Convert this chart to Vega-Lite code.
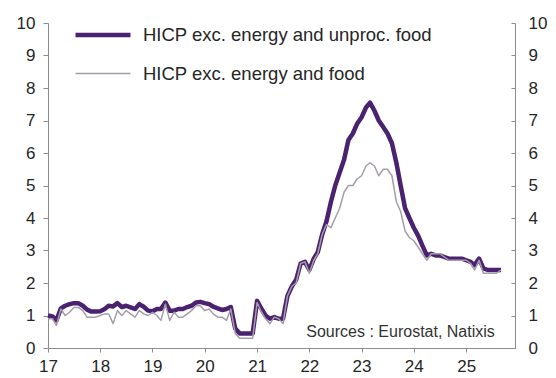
{
  "$schema": "https://vega.github.io/schema/vega-lite/v6.json",
  "width": 467,
  "height": 325,
  "autosize": {"type": "none"},
  "padding": {"left": 48, "top": 23, "right": 41, "bottom": 30},
  "background": "white",
  "config": {
    "font": "Liberation Sans",
    "view": {"stroke": null},
    "axis": {
      "grid": false,
      "domainColor": "#8c8c8c",
      "tickColor": "#8c8c8c",
      "labelColor": "#262626",
      "labelFont": "Liberation Sans",
      "labelFontSize": 17,
      "title": null
    },
    "legend": {
      "orient": "none",
      "legendX": 25,
      "legendY": -18,
      "symbolType": "stroke",
      "symbolSize": 3025,
      "labelFont": "Liberation Sans",
      "labelFontSize": 18.5,
      "labelColor": "#262626",
      "labelOffset": 10,
      "labelLimit": 400,
      "rowPadding": -2,
      "padding": 0,
      "title": null
    }
  },
  "data": {
    "values": [
      {"date": "2017-01-01", "unproc": 1.00, "food": 0.90},
      {"date": "2017-02-01", "unproc": 0.97, "food": 0.90},
      {"date": "2017-03-01", "unproc": 0.85, "food": 0.70},
      {"date": "2017-04-01", "unproc": 1.22, "food": 1.20},
      {"date": "2017-05-01", "unproc": 1.30, "food": 1.00},
      {"date": "2017-06-01", "unproc": 1.35, "food": 1.10},
      {"date": "2017-07-01", "unproc": 1.38, "food": 1.25},
      {"date": "2017-08-01", "unproc": 1.38, "food": 1.25},
      {"date": "2017-09-01", "unproc": 1.30, "food": 1.15},
      {"date": "2017-10-01", "unproc": 1.18, "food": 0.95},
      {"date": "2017-11-01", "unproc": 1.12, "food": 0.95},
      {"date": "2017-12-01", "unproc": 1.12, "food": 0.95},
      {"date": "2018-01-01", "unproc": 1.13, "food": 1.00},
      {"date": "2018-02-01", "unproc": 1.20, "food": 1.05},
      {"date": "2018-03-01", "unproc": 1.30, "food": 1.05},
      {"date": "2018-04-01", "unproc": 1.28, "food": 0.75},
      {"date": "2018-05-01", "unproc": 1.38, "food": 1.15},
      {"date": "2018-06-01", "unproc": 1.26, "food": 1.00},
      {"date": "2018-07-01", "unproc": 1.30, "food": 1.15},
      {"date": "2018-08-01", "unproc": 1.25, "food": 1.05},
      {"date": "2018-09-01", "unproc": 1.20, "food": 0.95},
      {"date": "2018-10-01", "unproc": 1.35, "food": 1.15},
      {"date": "2018-11-01", "unproc": 1.27, "food": 1.05},
      {"date": "2018-12-01", "unproc": 1.15, "food": 1.00},
      {"date": "2019-01-01", "unproc": 1.13, "food": 1.10},
      {"date": "2019-02-01", "unproc": 1.20, "food": 1.00},
      {"date": "2019-03-01", "unproc": 1.20, "food": 0.85},
      {"date": "2019-04-01", "unproc": 1.40, "food": 1.35},
      {"date": "2019-05-01", "unproc": 1.15, "food": 0.85},
      {"date": "2019-06-01", "unproc": 1.15, "food": 1.10},
      {"date": "2019-07-01", "unproc": 1.20, "food": 0.95},
      {"date": "2019-08-01", "unproc": 1.20, "food": 0.95},
      {"date": "2019-09-01", "unproc": 1.26, "food": 1.05},
      {"date": "2019-10-01", "unproc": 1.30, "food": 1.15},
      {"date": "2019-11-01", "unproc": 1.40, "food": 1.30},
      {"date": "2019-12-01", "unproc": 1.42, "food": 1.30},
      {"date": "2020-01-01", "unproc": 1.38, "food": 1.15},
      {"date": "2020-02-01", "unproc": 1.35, "food": 1.20},
      {"date": "2020-03-01", "unproc": 1.27, "food": 1.05},
      {"date": "2020-04-01", "unproc": 1.22, "food": 0.95},
      {"date": "2020-05-01", "unproc": 1.17, "food": 0.95},
      {"date": "2020-06-01", "unproc": 1.20, "food": 0.85},
      {"date": "2020-07-01", "unproc": 1.26, "food": 1.20},
      {"date": "2020-08-01", "unproc": 0.60, "food": 0.45},
      {"date": "2020-09-01", "unproc": 0.45, "food": 0.30},
      {"date": "2020-10-01", "unproc": 0.45, "food": 0.30},
      {"date": "2020-11-01", "unproc": 0.45, "food": 0.30},
      {"date": "2020-12-01", "unproc": 0.45, "food": 0.30},
      {"date": "2021-01-01", "unproc": 1.45, "food": 1.40},
      {"date": "2021-02-01", "unproc": 1.20, "food": 1.10},
      {"date": "2021-03-01", "unproc": 1.00, "food": 0.90},
      {"date": "2021-04-01", "unproc": 0.90, "food": 0.75},
      {"date": "2021-05-01", "unproc": 0.95, "food": 0.95},
      {"date": "2021-06-01", "unproc": 0.90, "food": 0.90},
      {"date": "2021-07-01", "unproc": 0.90, "food": 0.75},
      {"date": "2021-08-01", "unproc": 1.60, "food": 1.60},
      {"date": "2021-09-01", "unproc": 1.90, "food": 1.90},
      {"date": "2021-10-01", "unproc": 2.10, "food": 2.00},
      {"date": "2021-11-01", "unproc": 2.60, "food": 2.60},
      {"date": "2021-12-01", "unproc": 2.65, "food": 2.65},
      {"date": "2022-01-01", "unproc": 2.40, "food": 2.30},
      {"date": "2022-02-01", "unproc": 2.75, "food": 2.70},
      {"date": "2022-03-01", "unproc": 2.95, "food": 2.90},
      {"date": "2022-04-01", "unproc": 3.50, "food": 3.50},
      {"date": "2022-05-01", "unproc": 3.90, "food": 3.80},
      {"date": "2022-06-01", "unproc": 4.50, "food": 3.70},
      {"date": "2022-07-01", "unproc": 5.00, "food": 4.00},
      {"date": "2022-08-01", "unproc": 5.40, "food": 4.30},
      {"date": "2022-09-01", "unproc": 5.80, "food": 4.80},
      {"date": "2022-10-01", "unproc": 6.40, "food": 5.00},
      {"date": "2022-11-01", "unproc": 6.60, "food": 5.00},
      {"date": "2022-12-01", "unproc": 6.90, "food": 5.20},
      {"date": "2023-01-01", "unproc": 7.10, "food": 5.30},
      {"date": "2023-02-01", "unproc": 7.40, "food": 5.60},
      {"date": "2023-03-01", "unproc": 7.55, "food": 5.70},
      {"date": "2023-04-01", "unproc": 7.30, "food": 5.60},
      {"date": "2023-05-01", "unproc": 7.00, "food": 5.30},
      {"date": "2023-06-01", "unproc": 6.80, "food": 5.50},
      {"date": "2023-07-01", "unproc": 6.60, "food": 5.50},
      {"date": "2023-08-01", "unproc": 6.30, "food": 5.30},
      {"date": "2023-09-01", "unproc": 5.70, "food": 4.50},
      {"date": "2023-10-01", "unproc": 5.00, "food": 4.20},
      {"date": "2023-11-01", "unproc": 4.30, "food": 3.60},
      {"date": "2023-12-01", "unproc": 4.00, "food": 3.40},
      {"date": "2024-01-01", "unproc": 3.70, "food": 3.30},
      {"date": "2024-02-01", "unproc": 3.45, "food": 3.10},
      {"date": "2024-03-01", "unproc": 3.15, "food": 2.90},
      {"date": "2024-04-01", "unproc": 2.85, "food": 2.70},
      {"date": "2024-05-01", "unproc": 2.90, "food": 2.90},
      {"date": "2024-06-01", "unproc": 2.85, "food": 2.90},
      {"date": "2024-07-01", "unproc": 2.85, "food": 2.90},
      {"date": "2024-08-01", "unproc": 2.80, "food": 2.80},
      {"date": "2024-09-01", "unproc": 2.75, "food": 2.70},
      {"date": "2024-10-01", "unproc": 2.75, "food": 2.70},
      {"date": "2024-11-01", "unproc": 2.75, "food": 2.70},
      {"date": "2024-12-01", "unproc": 2.75, "food": 2.70},
      {"date": "2025-01-01", "unproc": 2.70, "food": 2.70},
      {"date": "2025-02-01", "unproc": 2.65, "food": 2.60},
      {"date": "2025-03-01", "unproc": 2.55, "food": 2.40},
      {"date": "2025-04-01", "unproc": 2.75, "food": 2.70},
      {"date": "2025-05-01", "unproc": 2.45, "food": 2.30},
      {"date": "2025-06-01", "unproc": 2.40, "food": 2.30},
      {"date": "2025-07-01", "unproc": 2.40, "food": 2.30},
      {"date": "2025-08-01", "unproc": 2.40, "food": 2.30},
      {"date": "2025-09-01", "unproc": 2.40, "food": 2.40}
    ]
  },
  "transform": [
    {"fold": ["unproc", "food"], "as": ["key", "value"]},
    {"lookup": "key", "from": {"data": {"values": [
      {"key": "unproc", "series": "HICP exc. energy and unproc. food"},
      {"key": "food", "series": "HICP exc. energy and food"}
    ]}, "key": "key", "fields": ["series"]}}
  ],
  "encoding": {
    "x": {
      "field": "date",
      "type": "temporal",
      "scale": {"type": "utc", "domain": ["2017-01-01", "2025-12-08"]},
      "axis": {
        "format": "%y",
        "values": [
          {"year": 2017, "utc": true}, {"year": 2018, "utc": true}, {"year": 2019, "utc": true},
          {"year": 2020, "utc": true}, {"year": 2021, "utc": true}, {"year": 2022, "utc": true},
          {"year": 2023, "utc": true}, {"year": 2024, "utc": true}, {"year": 2025, "utc": true}
        ],
        "tickSize": 4,
        "labelPadding": 6,
        "labelFlush": false
      }
    }
  },
  "layer": [
    {
      "transform": [{"filter": "datum.key === 'unproc'"}],
      "mark": {"type": "line", "strokeJoin": "round", "strokeCap": "butt"},
      "encoding": {
        "y": {
          "field": "value",
          "type": "quantitative",
          "scale": {"domain": [0, 10], "nice": false},
          "axis": {"orient": "left", "values": [0,1,2,3,4,5,6,7,8,9,10], "tickSize": 5, "labelPadding": 8}
        },
        "color": {
          "field": "series",
          "type": "nominal",
          "scale": {"domain": ["HICP exc. energy and unproc. food", "HICP exc. energy and food"], "range": ["#4a2270", "#a69dab"]}
        },
        "strokeWidth": {
          "field": "series",
          "type": "nominal",
          "scale": {"domain": ["HICP exc. energy and unproc. food", "HICP exc. energy and food"], "range": [4.5, 1.5]}
        }
      }
    },
    {
      "transform": [{"filter": "datum.key === 'food'"}],
      "mark": {"type": "line", "strokeJoin": "round"},
      "encoding": {
        "y": {
          "field": "value",
          "type": "quantitative",
          "scale": {"domain": [0, 10], "nice": false},
          "axis": {"orient": "right", "values": [0,1,2,3,4,5,6,7,8,9,10], "tickSize": -4, "labelPadding": 17}
        },
        "color": {"field": "series", "type": "nominal"},
        "strokeWidth": {"field": "series", "type": "nominal"}
      }
    },
    {
      "data": {"values": [{"note": "Sources :  Eurostat, Natixis", "date": "2025-07-20", "value": 0.5}]},
      "mark": {"type": "text", "align": "right", "baseline": "middle", "fontSize": 16, "font": "Liberation Sans", "color": "#333333"},
      "encoding": {
        "y": {"field": "value", "type": "quantitative", "axis": null},
        "text": {"field": "note"}
      }
    }
  ],
  "resolve": {"axis": {"y": "independent"}}
}
